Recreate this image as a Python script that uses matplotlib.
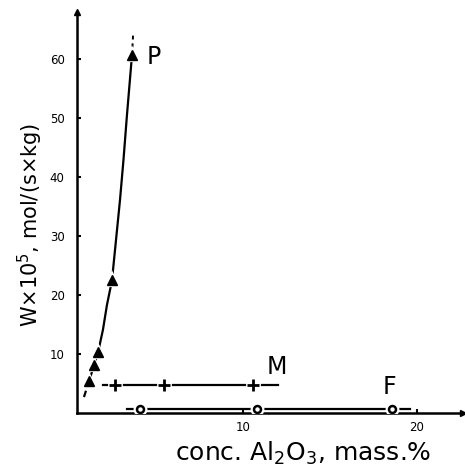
import matplotlib
matplotlib.use("Agg")
import matplotlib.pyplot as plt

plt.rcParams['font.family'] = ['DejaVu Sans']
plt.rcParams['mathtext.default'] = 'regular'

# Series P (triangles)
p_x = [1.15, 1.44, 1.67, 2.47, 3.62]
p_y = [5.4, 8.1, 10.3, 22.5, 60.7]
# Fitted curve for P
p_curve_x = [1.15, 1.44, 1.67, 1.95, 2.18, 2.47, 2.70, 2.93, 3.13, 3.33, 3.62]
p_curve_y = [5.4, 8.1, 10.3, 14.1, 18.3, 22.5, 29.3, 36.1, 42.9, 50.5, 60.7]
p_ext_low_x = [0.86, 1.15]
p_ext_low_y = [2.7, 5.4]
p_ext_high_x = [3.62, 3.68]
p_ext_high_y = [60.7, 64.0]

# Series M (plus)
m_x = [2.64, 5.46, 10.57]
m_y = [4.75, 4.75, 4.75]
m_line_x = [1.95, 12.0]
m_line_y = [4.75, 4.75]

# Series F (circles)
f_x = [4.08, 10.8, 18.56]
f_y = [0.68, 0.68, 0.68]
f_line_x = [3.33, 19.6]
f_line_y = [0.68, 0.68]

y_ticks = [10, 20, 30, 40, 50, 60]
x_ticks = [10, 20]
x_min, x_max = 0.46, 22.64
y_min, y_max = 0, 68

fig = plt.figure(figsize=(4.65, 4.76), dpi=100)
ax = fig.add_axes([77/465, 1-413/476, 386/465, 401/476])
ax.set_xlim(x_min, x_max)
ax.set_ylim(y_min, y_max)

lw = 1.6
# lines
ax.plot(p_curve_x, p_curve_y, color='black', lw=lw, zorder=2, solid_joinstyle='round')
ax.plot(p_ext_low_x, p_ext_low_y, color='black', lw=lw, dashes=(3, 2), zorder=2)
ax.plot(p_ext_high_x, p_ext_high_y, color='black', lw=1.4, dashes=(2, 2), zorder=2)
ax.plot(m_line_x, m_line_y, color='black', lw=lw, zorder=2)
ax.plot(f_line_x, f_line_y, color='black', lw=lw, zorder=2)

# white halos to create gaps around markers
ax.plot(p_x, p_y, linestyle='none', marker='^', ms=7, mfc='white', mec='white', mew=3, zorder=3)
ax.plot(m_x, m_y, linestyle='none', marker='s', ms=9, mfc='white', mec='white', mew=2, zorder=3)
ax.plot(f_x, f_y, linestyle='none', marker='o', ms=8, mfc='white', mec='white', mew=2, zorder=3)

# markers
ax.plot(p_x, p_y, linestyle='none', marker='^', ms=7, color='black', zorder=4)
ax.plot(m_x, m_y, linestyle='none', marker='+', ms=9, mew=2, color='black', zorder=4)
ax.plot(f_x, f_y, linestyle='none', marker='o', ms=5, mfc='white', mec='black', mew=1.8, zorder=4)

# series labels
ax.text(4.89, 60.3, 'P', fontsize=17, ha='center', va='center')
ax.text(11.95, 7.8, 'M', fontsize=17, ha='center', va='center')
ax.text(18.4, 4.4, 'F', fontsize=17, ha='center', va='center')

# axes styling
for s in ['top', 'right']:
    ax.spines[s].set_visible(False)
for s in ['left', 'bottom']:
    ax.spines[s].set_linewidth(1.8)
ax.plot([x_min], [y_max], marker='^', ms=5, color='black', clip_on=False, zorder=5)
ax.plot([x_max], [y_min], marker='>', ms=5, color='black', clip_on=False, zorder=5)

ax.set_yticks(y_ticks)
ax.set_xticks(x_ticks)
ax.tick_params(axis='both', direction='in', length=3, width=1.5, labelsize=8.5)
ax.tick_params(axis='y', pad=9)
ax.tick_params(axis='x', pad=6)

ax.set_xlabel('conc. Al$_2$O$_3$, mass.%', fontsize=18)
ax.xaxis.set_label_coords(0.585, -0.068)
ax.set_ylabel('W$\\times$10$^5$, mol/(s$\\times$kg)', fontsize=15)
ax.yaxis.set_label_coords(-0.083, 0.469)

fig.savefig('out.png', dpi=100)
